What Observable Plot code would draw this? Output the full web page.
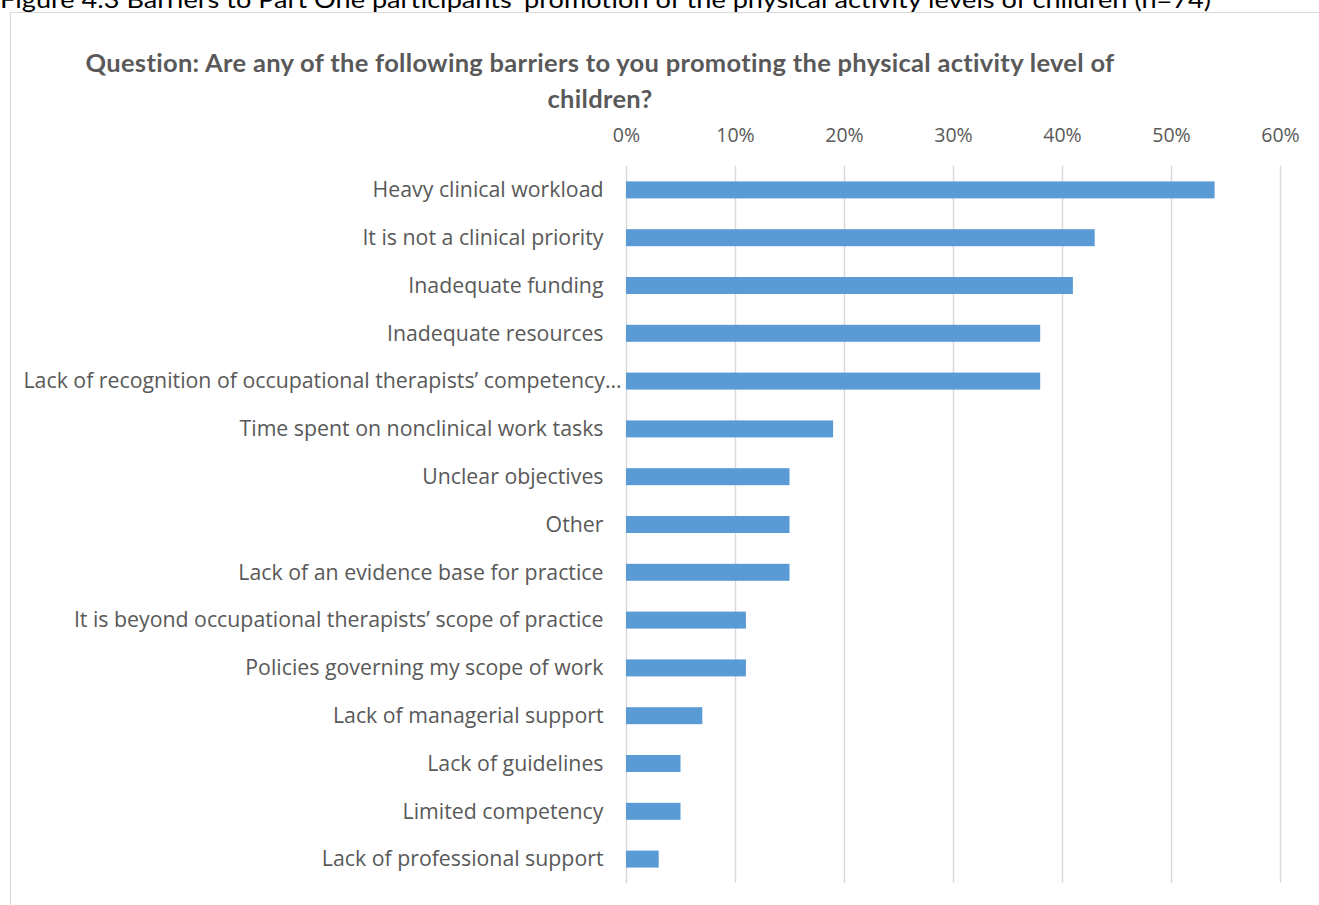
<!DOCTYPE html>
<html>
<head>
<meta charset="utf-8">
<script src="https://cdn.jsdelivr.net/npm/d3@7"></script>
<script src="https://cdn.jsdelivr.net/npm/@observablehq/plot@0.6"></script>
<style>
  html, body { margin: 0; padding: 0; background: #fff; }
  body { width: 1319px; height: 905px; overflow: hidden; position: relative; }
  #caption { position: absolute; left: 0; top: -16px; font-family: Lato, sans-serif; font-size: 24px; color: #000; white-space: nowrap; transform-origin: 0 0; transform: scaleX(1.13); }
  #frame { position: absolute; left: 10px; top: 12px; width: 1330px; height: 920px; border: 1.5px solid #d9d9d9; box-sizing: border-box; }
  #title { position: absolute; left: 0; width: 1200px; top: 44px; text-align: center; font-family: Lato, sans-serif; font-weight: bold; font-size: 25.5px; letter-spacing: 0.3px; line-height: 36px; color: #595959; }
  #chart { position: absolute; left: 0; top: 110px; }
  #chart svg text { font-family: "Open Sans", sans-serif; }
</style>
</head>
<body>
<div id="caption">Figure 4.3 Barriers to Part One participants’ promotion of the physical activity levels of children (n=74)</div>
<div id="frame"></div>
<div id="title">Question: Are any of the following barriers to you promoting the physical activity level of<br>children?</div>
<div id="chart"></div>
<script>
const categories = [
  "Heavy clinical workload",
  "It is not a clinical priority",
  "Inadequate funding",
  "Inadequate resources",
  "Lack of recognition of occupational therapists’ competency…",
  "Time spent on nonclinical work tasks",
  "Unclear objectives",
  "Other",
  "Lack of an evidence base for practice",
  "It is beyond occupational therapists’ scope of practice",
  "Policies governing my scope of work",
  "Lack of managerial support",
  "Lack of guidelines",
  "Limited competency",
  "Lack of professional support"
];
const values = [54, 43, 41, 38, 38, 19, 15, 15, 15, 11, 11, 7, 5, 5, 3];
const xTicks = [0, 10, 20, 30, 40, 50, 60];

const data = categories.map((c, i) => ({category: c, value: values[i]}));

const chart = Plot.plot({
  width: 1319,
  height: 795,
  marginLeft: 626,
  marginRight: 39,
  marginTop: 56,
  marginBottom: 22,
  style: { fontFamily: "'Open Sans', sans-serif", fontSize: "20px", color: "#595959", background: "transparent" },
  x: { domain: [0, 60], ticks: xTicks, tickFormat: d => d + "%", label: null },
  y: { domain: categories, padding: 0, round: false, label: null },
  marks: [
    Plot.ruleX(xTicks, { stroke: "#d9d9d9", strokeWidth: 1.5 }),
    Plot.barX(data, { x: "value", y: "category", fill: "#5b9bd5", insetTop: 15.4, insetBottom: 15.4 }),
    Plot.axisX({ anchor: "top", ticks: xTicks, tickFormat: d => d + "%", tickSize: 0, tickPadding: 25, fontSize: 19.5, fill: "#595959", label: null }),
    Plot.axisY({ anchor: "left", tickSize: 0, tickPadding: 23, fontSize: 21.3, fill: "#595959", label: null })
  ]
});
// Excel lets the truncated long label run closer to the bars
d3.select(chart).selectAll("text").each(function() {
  if (this.textContent === categories[4]) this.setAttribute("dx", "18");
});
document.getElementById("chart").appendChild(chart);
</script>
</body>
</html>
